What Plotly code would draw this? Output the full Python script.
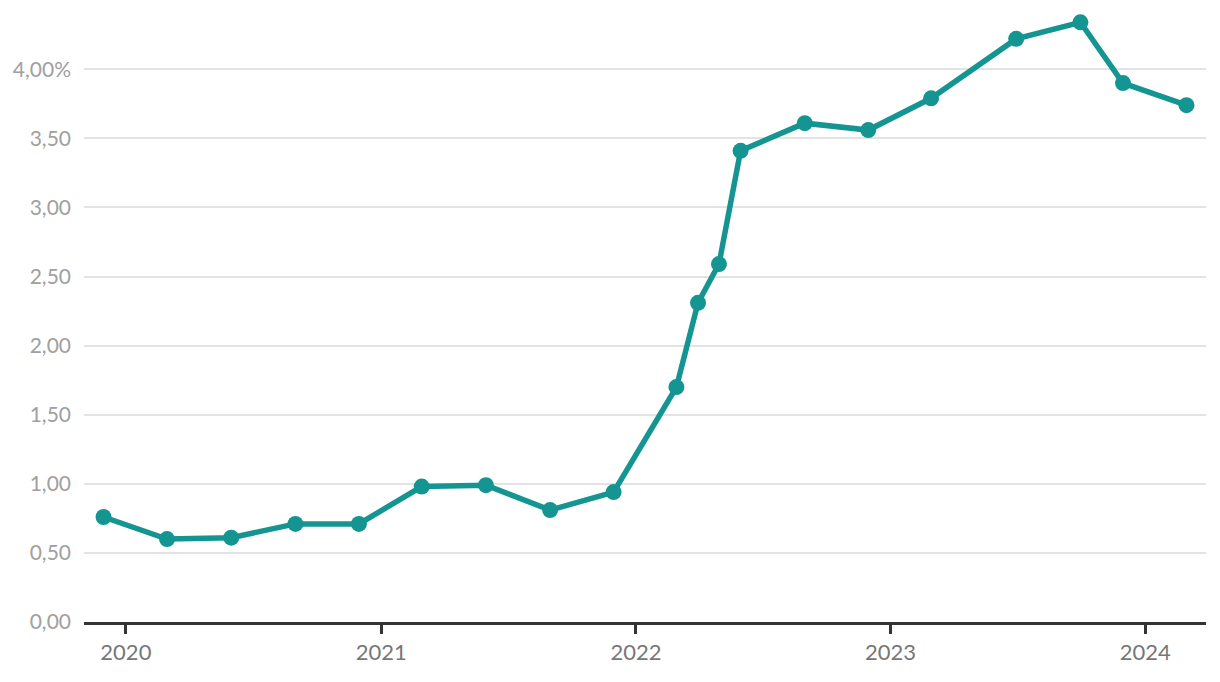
import plotly.graph_objects as go

dates = ["2019-11-30", "2020-02-29", "2020-05-31", "2020-08-31", "2020-11-30",
         "2021-02-28", "2021-05-31", "2021-08-31", "2021-11-30",
         "2022-02-28", "2022-03-31", "2022-04-30", "2022-05-31", "2022-08-31", "2022-11-30",
         "2023-02-28", "2023-06-30", "2023-09-30", "2023-11-30", "2024-02-29"]
rates = [0.76, 0.60, 0.61, 0.71, 0.71,
         0.98, 0.99, 0.81, 0.94,
         1.70, 2.31, 2.59, 3.41, 3.61, 3.56,
         3.79, 4.22, 4.34, 3.90, 3.74]

y_ticks = [0, 0.5, 1, 1.5, 2, 2.5, 3, 3.5, 4]
y_labels = ["0,00", "0,50", "1,00", "1,50", "2,00", "2,50", "3,00", "3,50", "4,00%"]
x_ticks = ["2020-01-01", "2021-01-01", "2022-01-01", "2023-01-01", "2024-01-01"]
x_labels = ["2020", "2021", "2022", "2023", "2024"]

color = "#149592"

fig = go.Figure()
fig.add_trace(go.Scatter(
    x=dates, y=rates, mode="lines+markers",
    line=dict(color=color, width=5.5),
    marker=dict(color=color, size=16),
    hoverinfo="x+y", showlegend=False,
))

fig.update_layout(
    width=1220, height=682,
    margin=dict(l=84, r=14, t=14, b=60),
    paper_bgcolor="white", plot_bgcolor="white",
    font=dict(family="Lato", size=21),
)
fig.update_xaxes(
    range=["2019-11-02", "2024-03-28"],
    tickmode="array", tickvals=x_ticks, ticktext=x_labels,
    showgrid=False, showline=True, linecolor="#333333", linewidth=3,
    ticks="outside", ticklen=9, tickwidth=3, tickcolor="#333333",
    tickfont=dict(color="#777777", size=22, family="Lato"),
    zeroline=False,
)
fig.update_yaxes(
    range=[0, 4.4],
    tickmode="array", tickvals=y_ticks, ticktext=y_labels,
    showgrid=True, gridcolor="#e3e3e3", gridwidth=2,
    showline=False, zeroline=False, ticks="",
    tickfont=dict(color="#a0a0a0", size=21, family="Lato"),
    ticklabelstandoff=12,
)

fig.write_html("out.html")
